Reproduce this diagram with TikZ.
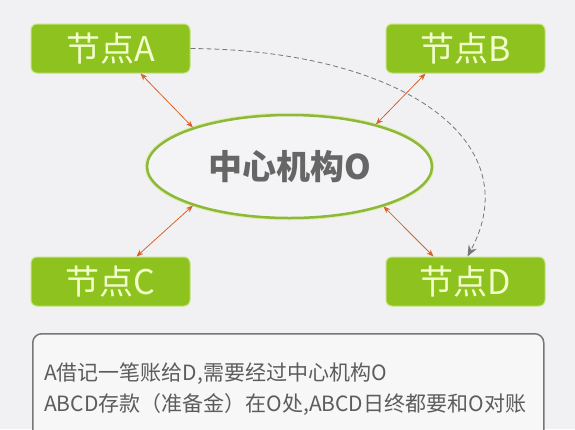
\documentclass[tikz,border=0pt]{standalone}
\usepackage{fontspec}
\setmainfont{Noto Sans CJK SC}
\usepackage{xcolor}
\usepackage{tikz}
\usetikzlibrary{shapes.geometric}
\usetikzlibrary{arrows.meta}
\definecolor{paper}{HTML}{F1F1F3}
\definecolor{leaf}{HTML}{8DC21F}
\definecolor{leafedge}{HTML}{C5E27E}
\definecolor{leaftext}{HTML}{F2FFCC}
\definecolor{ring}{HTML}{8DB83A}
\definecolor{ringhalo}{HTML}{DDEFA8}
\definecolor{linkred}{HTML}{D9622B}
\definecolor{inkgrey}{HTML}{666666}
\definecolor{dashgrey}{HTML}{777777}

\begin{document}
\begin{tikzpicture}[%
    x=1pt, y=-1pt,
    member/.style={rectangle, rounded corners=6pt, fill=leaf, draw=leafedge,
      line width=1pt, minimum width=159pt, minimum height=49pt, inner sep=0pt,
      text=leaftext, font=\fontsize{34}{38}\selectfont},
    hub/.style={ellipse, fill=white!25!paper, draw=ring, line width=2.5pt,
      preaction={draw=ringhalo, line width=4.5pt},
      minimum width=285pt, minimum height=103pt, inner sep=0pt,
      text=inkgrey, font=\fontsize{34}{38}\selectfont\bfseries},
    link/.style={draw=linkred, line width=0.8pt,
      {Stealth[length=7pt,width=5.5pt]}-{Stealth[length=7pt,width=5.5pt]}},
    transfer/.style={draw=dashgrey, line width=0.8pt, dash pattern=on 5pt off 3pt,
      -{Stealth[length=11pt,width=9pt]}},
    notebox/.style={rectangle, rounded corners=9pt, draw=dashgrey, line width=1.5pt,
      fill=white!40!paper, minimum width=511pt, minimum height=112pt, inner sep=0pt}]

  \fill[paper] (0,0) rectangle (575,429);
  \clip (0,0) rectangle (575,429);

  % members and the central body
  \node[member] (nodeA) at (110.5,48.5) {节点A};
  \node[member] (nodeB) at (465.5,48.5) {节点B};
  \node[member] (nodeC) at (110.5,281.5) {节点C};
  \node[member] (nodeD) at (465.5,281.5) {节点D};
  \node[hub] (hub) at (289.5,166.5) {中心机构O};

  \draw[link] ([xshift=30pt]nodeA.south) -- (hub.158);
  \draw[link] ([xshift=-40pt]nodeB.south) -- (hub.26);
  \draw[link] (hub.202) -- ([xshift=26pt]nodeC.north);
  \draw[link] (hub.337) -- ([xshift=-32pt]nodeD.north);

  % A -> D by way of O
  \draw[transfer] (nodeA.east) .. controls (400,50) and (530,140) .. ([xshift=2pt]nodeD.north);

  \node[notebox, anchor=north west] (note) at (32,333) {};
  \node[anchor=west, align=left, text=inkgrey!90!black, inner sep=0pt,
    font=\fontsize{21}{31}\selectfont] (notetext) at (44,389.5)
    {A借记一笔账给D,需要经过中心机构O\\ABCD存款（准备金）在O处,ABCD日终都要和O对账};
\end{tikzpicture}
\end{document}
